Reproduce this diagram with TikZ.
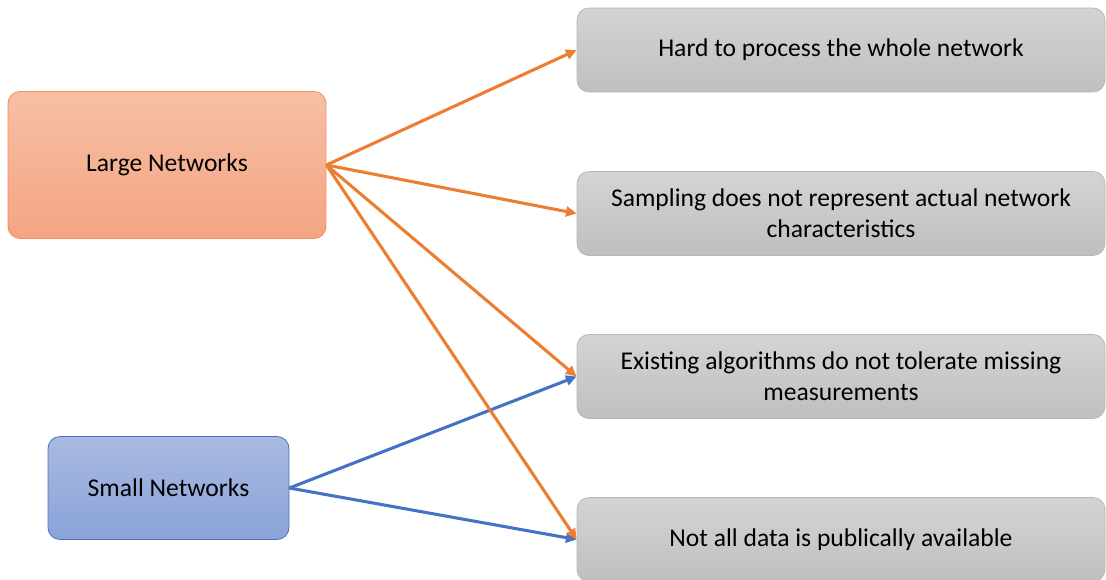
\documentclass[tikz,border=0pt]{standalone}
\usepackage{fontspec}
\setmainfont{Carlito}
\usetikzlibrary{arrows.meta}
\definecolor{orangeline}{HTML}{ED7D31}
\definecolor{orangeedge}{HTML}{F0905A}
\definecolor{orangetop}{HTML}{F7BFA5}
\definecolor{orangebot}{HTML}{F4A582}
\definecolor{blueline}{HTML}{4472C4}
\definecolor{bluetop}{HTML}{A9B9E1}
\definecolor{bluebot}{HTML}{8BA3D9}
\definecolor{graytop}{HTML}{D4D4D4}
\definecolor{graybot}{HTML}{BFBFBF}
\definecolor{grayedge}{HTML}{B8B8B8}
\tikzset{
  box/.style={rounded corners=9pt, align=center, inner sep=0pt,
    font=\fontsize{19.2}{23.5}\selectfont, text=black},
  srcbig/.style={box, draw=orangeedge, line width=0.6pt,
    top color=orangetop, bottom color=orangebot,
    minimum width=238.5pt, minimum height=110.25pt},
  srcsmall/.style={box, draw=blueline, line width=0.6pt,
    top color=bluetop, bottom color=bluebot,
    minimum width=180.75pt, minimum height=77.25pt},
  issue/.style={box, draw=grayedge, line width=0.6pt,
    top color=graytop, bottom color=graybot,
    minimum width=396pt, minimum height=63pt},
  link/.style={line width=2.3pt, -{Triangle[length=8pt,width=7.5pt]}},
}
\begin{document}
\begin{tikzpicture}[x=0.75pt,y=-0.75pt]
\useasboundingbox (0,0) rectangle (1106,579);
\node[srcbig] (large) at (167,165) {Large Networks};
\node[srcsmall] (small) at (168.5,488) {Small Networks};
\node[issue] (i1) at (841,50) {Hard to process the whole network};
\node[issue] (i2) at (841,213.5) {Sampling does not represent actual network\\characteristics};
\node[issue] (i3) at (841,376.5) {Existing algorithms do not tolerate missing\\measurements};
\node[issue] (i4) at (841,539.5) {Not all data is publically available};
\draw[link, orangeline] (large.east) -- (i1.west);
\draw[link, orangeline] (large.east) -- (i2.west);
\draw[link, orangeline] (large.east) -- (i3.west);
\draw[link, blueline] (small.east) -- (i3.west);
\draw[link, blueline] (small.east) -- (i4.west);
\draw[link, orangeline] (large.east) -- (i4.west);
\end{tikzpicture}
\end{document}
